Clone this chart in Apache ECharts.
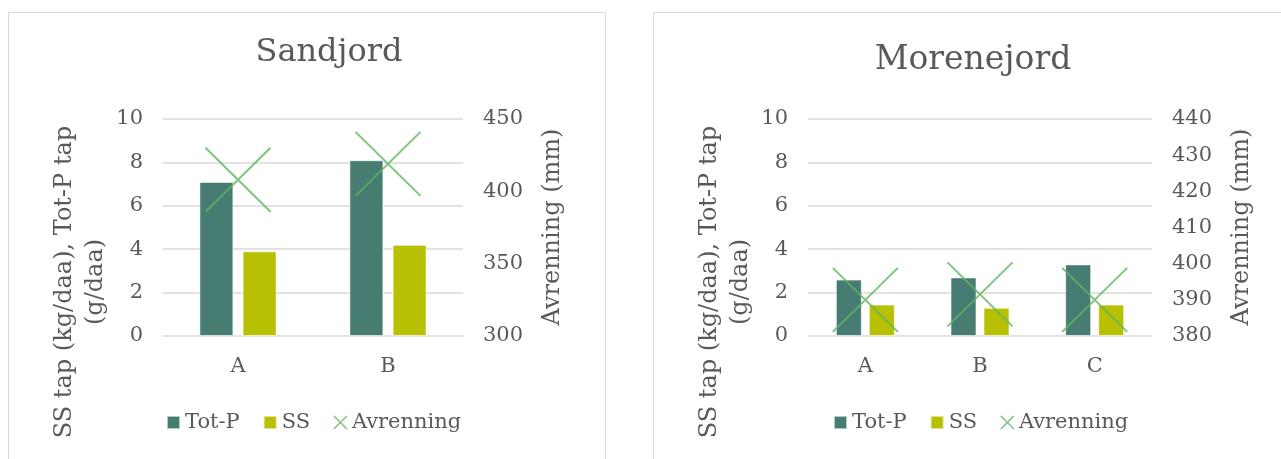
<!DOCTYPE html>
<html>
<head>
<meta charset="utf-8">
<script src="https://cdn.jsdelivr.net/npm/echarts@6/dist/echarts.min.js"></script>
<style>
html,body{margin:0;padding:0;background:#fff;}
#main{width:1281px;height:459px;}
</style>
</head>
<body>
<div id="main"></div>
<script>
// ---- data ----
const sandCategories = ['A', 'B'];
const sandTotP = [7.1, 8.1];
const sandSS = [3.9, 4.2];
const sandAvrenning = [408, 419];

const moreneCategories = ['A', 'B', 'C'];
const moreneTotP = [2.6, 2.7, 3.3];
const moreneSS = [1.45, 1.3, 1.45];
const moreneAvrenning = [390, 391.5, 390];

const leftTicks = { min: 0, max: 10, interval: 2 };
const sandRightTicks = { min: 300, max: 450, interval: 50 };
const moreneRightTicks = { min: 380, max: 440, interval: 10 };

const titles = ['Sandjord', 'Morenejord'];
const leftAxisTitle = ['SS tap (kg/daa), Tot-P tap', '(g/daa)'];
const rightAxisTitle = 'Avrenning (mm)';
const seriesNames = ['Tot-P', 'SS', 'Avrenning'];

// ---- styles ----
const FONT = 'DejaVu Serif';
const TXT = '#595959';
const C_TOTP = '#467C72';
const C_SS = '#B8C004';
const C_AVR = '#5FB55F';
const XPATH = 'path://M0,0L64,64M64,0L0,64';

const chart = echarts.init(document.getElementById('main'), null, { renderer: 'canvas' });

function yAxisDef(grid, pos, t, split) {
  return {
    type: 'value', gridIndex: grid, position: pos,
    min: t.min, max: t.max, interval: t.interval,
    axisLine: { show: false }, axisTick: { show: false },
    axisLabel: { color: TXT, fontFamily: FONT, fontSize: 21, margin: 20 },
    splitLine: { show: split, lineStyle: { color: '#D9D9D9', width: 1.5 } }
  };
}
function xAxisDef(grid, cats) {
  return {
    type: 'category', gridIndex: grid, data: cats,
    axisLine: { show: false }, axisTick: { show: false },
    axisLabel: { color: TXT, fontFamily: FONT, fontSize: 21, margin: 20 },
    splitLine: { show: false }
  };
}
function barSeries(name, data, xi, yi, color, width) {
  return {
    type: 'bar', name, data, xAxisIndex: xi, yAxisIndex: yi,
    barWidth: width, barGap: '27%',
    itemStyle: { color, borderColor: 'rgba(255,255,255,0.6)', borderWidth: 1 }
  };
}
function xSeries(name, data, xi, yi) {
  return {
    type: 'scatter', name, data, xAxisIndex: xi, yAxisIndex: yi,
    symbol: XPATH, symbolSize: [65, 64], z: 5,
    itemStyle: { color: 'rgba(0,0,0,0)', borderColor: C_AVR, borderWidth: 2 }
  };
}
function legendDef(left) {
  return {
    left, top: 412, padding: 0, itemGap: 23, itemWidth: 13, itemHeight: 13,
    textStyle: { color: TXT, fontFamily: FONT, fontSize: 21 },
    data: [
      { name: seriesNames[0], icon: 'rect' },
      { name: seriesNames[1], icon: 'rect' },
      { name: seriesNames[2], icon: XPATH,
        itemStyle: { color: 'rgba(0,0,0,0)', borderColor: C_AVR, borderWidth: 1.6 } }
    ]
  };
}
function txt(text, x, y, size, rot) {
  return {
    type: 'text', x, y, rotation: rot || 0, silent: true,
    style: { text, fill: TXT, font: size + 'px "' + FONT + '"', align: 'center', verticalAlign: 'middle' }
  };
}

const option = {
  animation: false,
  backgroundColor: '#fff',
  grid: [
    { left: 163, top: 119, width: 300, height: 217 },
    { left: 808, top: 119, width: 344, height: 217 }
  ],
  xAxis: [xAxisDef(0, sandCategories), xAxisDef(1, moreneCategories)],
  yAxis: [
    yAxisDef(0, 'left', leftTicks, true),
    yAxisDef(0, 'right', sandRightTicks, false),
    yAxisDef(1, 'left', leftTicks, true),
    yAxisDef(1, 'right', moreneRightTicks, false)
  ],
  legend: [legendDef(166), legendDef(833)],
  series: [
    barSeries(seriesNames[0], sandTotP, 0, 0, C_TOTP, 34),
    barSeries(seriesNames[1], sandSS, 0, 0, C_SS, 34),
    xSeries(seriesNames[2], sandAvrenning, 0, 1),
    barSeries(seriesNames[0], moreneTotP, 1, 2, C_TOTP, 26),
    barSeries(seriesNames[1], moreneSS, 1, 2, C_SS, 26),
    xSeries(seriesNames[2], moreneAvrenning, 1, 3)
  ],
  graphic: [
    { type: 'rect', silent: true, shape: { x: 8.5, y: 12.5, width: 597, height: 470 },
      style: { fill: 'none', stroke: '#D9D9D9', lineWidth: 1 } },
    { type: 'rect', silent: true, shape: { x: 653.5, y: 12.5, width: 700, height: 470 },
      style: { fill: 'none', stroke: '#D9D9D9', lineWidth: 1 } },
    txt(titles[0], 329, 53, 32),
    txt(titles[1], 973, 60, 33),
    txt(leftAxisTitle[0], 65, 282, 24, Math.PI / 2),
    txt(leftAxisTitle[1], 96, 282, 24, Math.PI / 2),
    txt(rightAxisTitle, 553, 227, 24, Math.PI / 2),
    txt(leftAxisTitle[0], 710, 282, 24, Math.PI / 2),
    txt(leftAxisTitle[1], 741, 282, 24, Math.PI / 2),
    txt(rightAxisTitle, 1242, 227, 24, Math.PI / 2)
  ]
};
chart.setOption(option);
</script>
</body>
</html>
